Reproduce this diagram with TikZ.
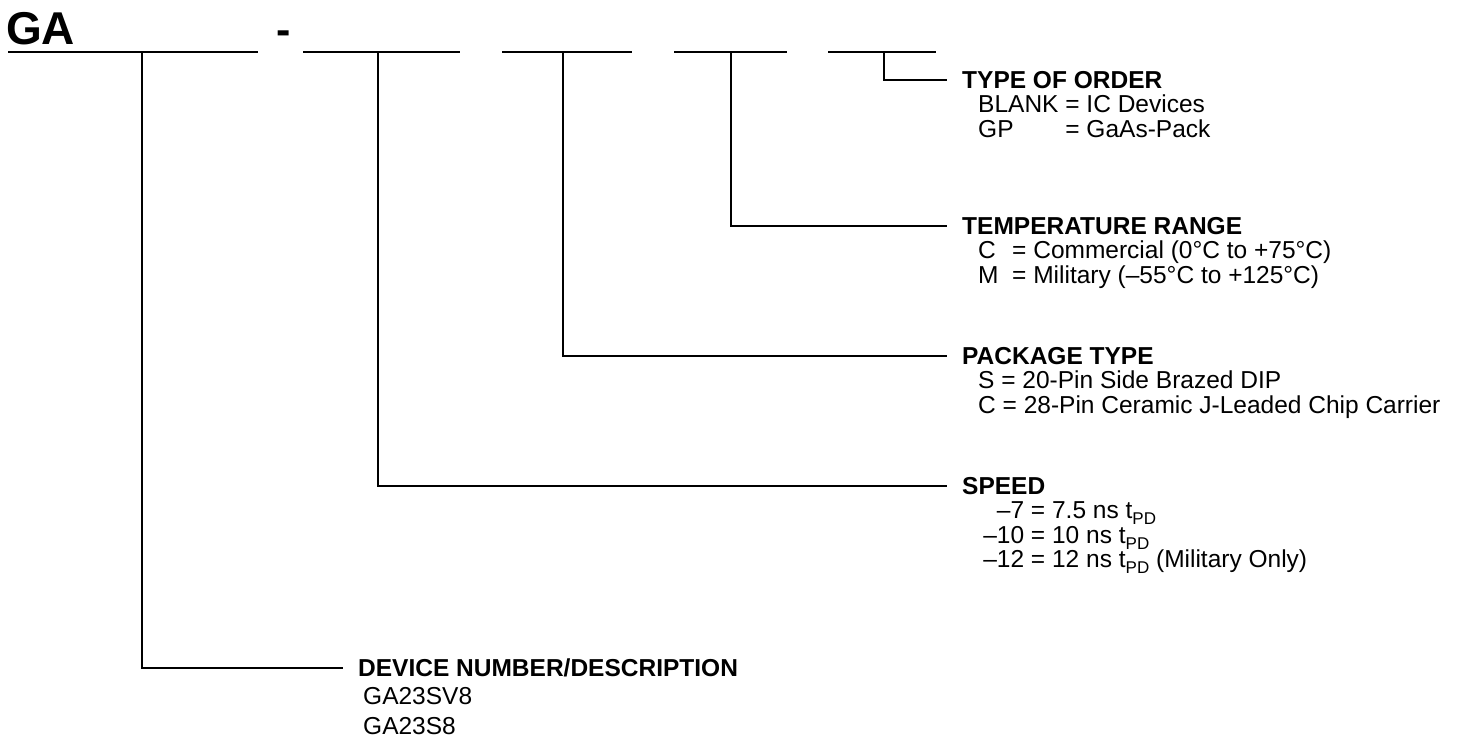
\documentclass[tikz,border=0pt]{standalone}
\usepackage{fontspec}
\setmainfont{Liberation Sans}
\usetikzlibrary{positioning}

\tikzset{
  bar/.style={line width=1.6pt},
  lead/.style={line width=1.6pt,shorten >=15pt},
  head/.style={anchor=west,inner sep=0pt,text height=17pt,text depth=0pt,
    font=\fontsize{24.5}{26}\selectfont\bfseries},
  item/.style={inner sep=0pt,text height=17pt,text depth=5pt,
    font=\fontsize{24.5}{26}\selectfont},
}
\newcommand{\tpd}{t\raisebox{-6pt}{\fontsize{17}{17}\selectfont PD}}

\begin{document}
\begin{tikzpicture}[x=1pt,y=-1pt]
  \useasboundingbox (0,0) rectangle (1457,737);

  \node[anchor=base west,inner sep=0pt,font=\fontsize{46}{48}\selectfont\bfseries] (ga) at (6,44) {GA};
  \node[anchor=base west,inner sep=0pt,font=\fontsize{43}{45}\selectfont\bfseries] (dash) at (276,44) {-};

  % the five fields of the part number
  \foreach \a/\b/\t/\n in {8/258/142/1, 303/460/378/2, 502/632/563/3, 674/787/731/4, 828/936/884/5}
    \draw[bar] (\a,52) -- (\b,52) (\t,52) coordinate (tap\n);

  \node[head] (order) at (962,80)  {TYPE OF ORDER};
  \node[head] (temp)  at (962,226) {TEMPERATURE RANGE};
  \node[head] (pack)  at (962,356) {PACKAGE TYPE};
  \node[head] (speed) at (962,486) {SPEED};
  \node[head] (dev)   at (358,668) {DEVICE NUMBER/DESCRIPTION};

  \node[item] (blank) [below right=7pt and 16pt of order.south west] {BLANK = IC Devices};
  \node[item] (gp)    [below right=2pt and 0pt of blank.south west]  {\rlap{GP}\phantom{BLANK} = GaAs-Pack};

  \node[item] (com) [below right=7pt and 16pt of temp.south west] {\rlap{C}\phantom{M}\ \ = Commercial (0°C to +75°C)};
  \node[item] (mil) [below right=2pt and 0pt of com.south west]   {M\ \ = Military (--55°C to +125°C)};

  \node[item] (sbd) [below right=7pt and 16pt of pack.south west] {S = 20-Pin Side Brazed DIP};
  \node[item] (jlc) [below right=2pt and 0pt of sbd.south west]   {C = 28-Pin Ceramic J-Leaded Chip Carrier};

  \node[item] (s7)  [below right=7pt and 21pt of speed.south west] {\makebox[41pt][r]{--7} = 7.5 ns \tpd};
  \node[item] (s10) [below right=2pt and 0pt of s7.south west]     {\makebox[41pt][r]{--10} = 10 ns \tpd};
  \node[item] (s12) [below right=2pt and 0pt of s10.south west]    {\makebox[41pt][r]{--12} = 12 ns \tpd{} (Military Only)};

  \node[item] (sv8) [below right=11pt and 5pt of dev.south west] {GA23SV8};
  \node[item] (s8)  [below right=7pt and 0pt of sv8.south west]  {GA23S8};

  \draw[lead] (tap5) |- (order.west);
  \draw[lead] (tap4) |- (temp.west);
  \draw[lead] (tap3) |- (pack.west);
  \draw[lead] (tap2) |- (speed.west);
  \draw[lead] (tap1) |- (dev.west);
\end{tikzpicture}
\end{document}
